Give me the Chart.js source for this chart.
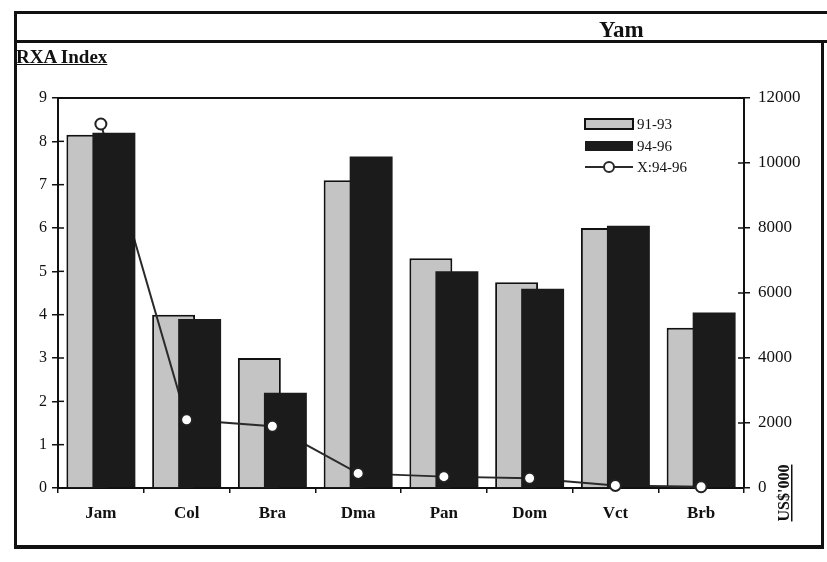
<!DOCTYPE html>
<html>
<head>
<meta charset="utf-8">
<title>Yam - RXA Index</title>
<script src="https://cdn.jsdelivr.net/npm/chart.js@4.4.1/dist/chart.umd.min.js"></script>
<style>
    html, body { margin: 0; padding: 0; background: #ffffff; }
    #wrap { position: relative; width: 827px; height: 562px; overflow: hidden; background: #ffffff; }
    #chart { position: absolute; left: 0; top: 0; }
    .rule { position: absolute; background: #111; }
    .label { position: absolute; font-family: 'Liberation Serif', 'Times New Roman', serif; font-weight: bold; color: #111; white-space: nowrap; }
</style>
</head>
<body>
<div id="wrap">
    <canvas id="chart" width="827" height="562"></canvas>
    <!-- cornice della pagina -->
    <div class="rule" style="left:14px; top:11px; width:813px; height:3px;"></div>
    <div class="rule" style="left:14px; top:40px; width:813px; height:3px;"></div>
    <div class="rule" style="left:14px; top:11px; width:3px; height:538px;"></div>
    <div class="rule" style="left:14px; top:545px; width:810px; height:4px;"></div>
    <div class="rule" style="left:821px; top:40px; width:3px; height:509px;"></div>
    <div class="label" style="left:599px; top:17px; font-size:23px;">Yam</div>
    <div class="label" style="left:16px; top:46px; font-size:19px; text-decoration:underline;">RXA Index</div>
</div>
<script>
// ==========================================
// DATI
// ==========================================

const categories = ['Jam', 'Col', 'Bra', 'Dma', 'Pan', 'Dom', 'Vct', 'Brb'];
const rxa9193 = [8.15, 4.0, 3.0, 7.1, 5.3, 4.75, 6.0, 3.7];
const rxa9496 = [8.2, 3.9, 2.2, 7.65, 5.0, 4.6, 6.05, 4.05];
const export9496 = [11200, 2100, 1900, 450, 350, 300, 80, 40];

const leftAxisMax = 9;
const leftAxisStep = 1;
const rightAxisMax = 12000;
const rightAxisStep = 2000;
const rightAxisTitle = "US$'000";

const SERIF = "'Liberation Serif', 'Times New Roman', serif";
const INK = '#111111';
const LIGHT = '#c4c4c4';
const DARK = '#1b1b1b';

// indici dei dataset
const IDX_LIGHT = 0, IDX_DARK = 1, IDX_LINE = 2, IDX_POINTS = 3;

// ==========================================
// PLUGIN: ordine di disegno
// barre chiare -> linea -> barre scure -> marcatori
// ==========================================

const drawOrderPlugin = {
    id: 'drawOrder',
    beforeDatasetDraw(chart, args) {
        if (args.index !== IDX_LIGHT) return false;
    },
    afterDatasetsDraw(chart) {
        [IDX_LINE, IDX_DARK, IDX_POINTS].forEach(function(i) {
            const meta = chart.getDatasetMeta(i);
            if (meta && meta.controller) meta.controller.draw();
        });
    }
};

// ==========================================
// PLUGIN: cornice, tacche interne, titolo asse, legenda
// ==========================================

const extrasPlugin = {
    id: 'extras',
    afterDraw(chart) {
        const ctx = chart.ctx;
        const area = chart.chartArea;
        ctx.save();

        // linea superiore dell'area del grafico
        ctx.strokeStyle = INK;
        ctx.lineWidth = 2;
        ctx.beginPath();
        ctx.moveTo(area.left - 1, area.top);
        ctx.lineTo(area.right + 1, area.top);
        ctx.stroke();

        // tacche verso l'interno sugli assi y
        ctx.lineWidth = 1.5;
        chart.scales.y.ticks.forEach(function(t) {
            const py = chart.scales.y.getPixelForValue(t.value);
            ctx.beginPath();
            ctx.moveTo(area.left, py);
            ctx.lineTo(area.left + 6, py);
            ctx.stroke();
        });
        chart.scales.y1.ticks.forEach(function(t) {
            const py = chart.scales.y1.getPixelForValue(t.value);
            ctx.beginPath();
            ctx.moveTo(area.right, py);
            ctx.lineTo(area.right - 6, py);
            ctx.stroke();
        });

        // titolo asse destro, ruotato e sottolineato
        ctx.font = 'bold 16px ' + SERIF;
        ctx.fillStyle = INK;
        ctx.translate(area.right + 45, area.bottom + 5);
        ctx.rotate(-Math.PI / 2);
        ctx.textAlign = 'center';
        ctx.textBaseline = 'alphabetic';
        ctx.fillText(rightAxisTitle, 0, 0);
        const w = ctx.measureText(rightAxisTitle).width;
        ctx.fillRect(-w / 2, 2, w, 1.5);
        ctx.setTransform(1, 0, 0, 1, 0, 0);

        // legenda
        const lx = 585, lw = 48;
        ctx.font = '15px ' + SERIF;
        ctx.textAlign = 'left';
        ctx.textBaseline = 'middle';
        const ds = chart.data.datasets;

        ctx.fillStyle = ds[IDX_LIGHT].backgroundColor;
        ctx.fillRect(lx, 119, lw, 10);
        ctx.strokeStyle = INK;
        ctx.lineWidth = 2;
        ctx.strokeRect(lx, 119, lw, 10);
        ctx.fillStyle = INK;
        ctx.fillText(ds[IDX_LIGHT].label, lx + lw + 4, 125);

        ctx.fillStyle = ds[IDX_DARK].backgroundColor;
        ctx.fillRect(lx, 141, lw, 10);
        ctx.fillStyle = INK;
        ctx.fillText(ds[IDX_DARK].label, lx + lw + 4, 147);

        ctx.strokeStyle = ds[IDX_LINE].borderColor;
        ctx.lineWidth = 2;
        ctx.beginPath();
        ctx.moveTo(lx, 167);
        ctx.lineTo(lx + lw, 167);
        ctx.stroke();
        ctx.beginPath();
        ctx.arc(lx + lw / 2, 167, 5, 0, Math.PI * 2);
        ctx.fillStyle = '#ffffff';
        ctx.fill();
        ctx.stroke();
        ctx.fillStyle = INK;
        ctx.fillText(ds[IDX_LINE].label, lx + lw + 4, 168);

        ctx.restore();
    }
};

// ==========================================
// GRAFICO
// ==========================================

function createChart() {
    const ctx = document.getElementById('chart').getContext('2d');

    new Chart(ctx, {
        data: {
            labels: categories,
            datasets: [
                {
                    type: 'bar',
                    label: '91-93',
                    data: rxa9193,
                    backgroundColor: LIGHT,
                    borderColor: INK,
                    borderWidth: 2,
                    yAxisID: 'y',
                    categoryPercentage: 0.607,
                    barPercentage: 1.65
                },
                {
                    type: 'bar',
                    label: '94-96',
                    data: rxa9496,
                    backgroundColor: DARK,
                    borderWidth: 0,
                    yAxisID: 'y',
                    categoryPercentage: 0.607,
                    barPercentage: 1.65
                },
                {
                    type: 'line',
                    label: 'X:94-96',
                    data: export9496,
                    borderColor: '#2a2a2a',
                    borderWidth: 2,
                    pointRadius: 0,
                    tension: 0,
                    yAxisID: 'y1'
                },
                {
                    // solo i marcatori, disegnati sopra le barre
                    type: 'line',
                    label: 'X:94-96 punti',
                    data: export9496,
                    showLine: false,
                    pointRadius: 5.5,
                    pointBackgroundColor: '#ffffff',
                    pointBorderColor: '#222222',
                    pointBorderWidth: 2,
                    yAxisID: 'y1'
                }
            ]
        },
        options: {
            responsive: false,
            animation: false,
            devicePixelRatio: 1,
            layout: {
                padding: { top: 98, left: 0, right: 0, bottom: 0 }
            },
            plugins: {
                legend: { display: false },
                tooltip: { enabled: false },
                title: { display: false }
            },
            scales: {
                x: {
                    type: 'category',
                    offset: true,
                    afterFit: function(scale) { scale.height = 74; },
                    grid: {
                        offset: true,
                        drawOnChartArea: false,
                        tickLength: 5,
                        color: INK,
                        lineWidth: 1.5
                    },
                    border: { color: INK, width: 2 },
                    ticks: {
                        color: INK,
                        padding: 10,
                        maxRotation: 0,
                        font: { family: SERIF, size: 17, weight: 'bold' }
                    }
                },
                y: {
                    position: 'left',
                    min: 0,
                    max: leftAxisMax,
                    afterFit: function(scale) { scale.width = 58; },
                    grid: {
                        drawOnChartArea: false,
                        tickLength: 6,
                        color: INK,
                        lineWidth: 1.5
                    },
                    border: { color: INK, width: 2 },
                    ticks: {
                        stepSize: leftAxisStep,
                        color: INK,
                        padding: 5,
                        font: { family: SERIF, size: 16 }
                    }
                },
                y1: {
                    position: 'right',
                    min: 0,
                    max: rightAxisMax,
                    afterFit: function(scale) { scale.width = 83; },
                    grid: {
                        drawOnChartArea: false,
                        tickLength: 6,
                        color: INK,
                        lineWidth: 1.5
                    },
                    border: { color: INK, width: 2 },
                    ticks: {
                        stepSize: rightAxisStep,
                        color: INK,
                        padding: 8,
                        font: { family: SERIF, size: 17 },
                        callback: function(value) { return String(value); }
                    }
                }
            }
        },
        plugins: [drawOrderPlugin, extrasPlugin]
    });
}

createChart();
</script>
</body>
</html>
